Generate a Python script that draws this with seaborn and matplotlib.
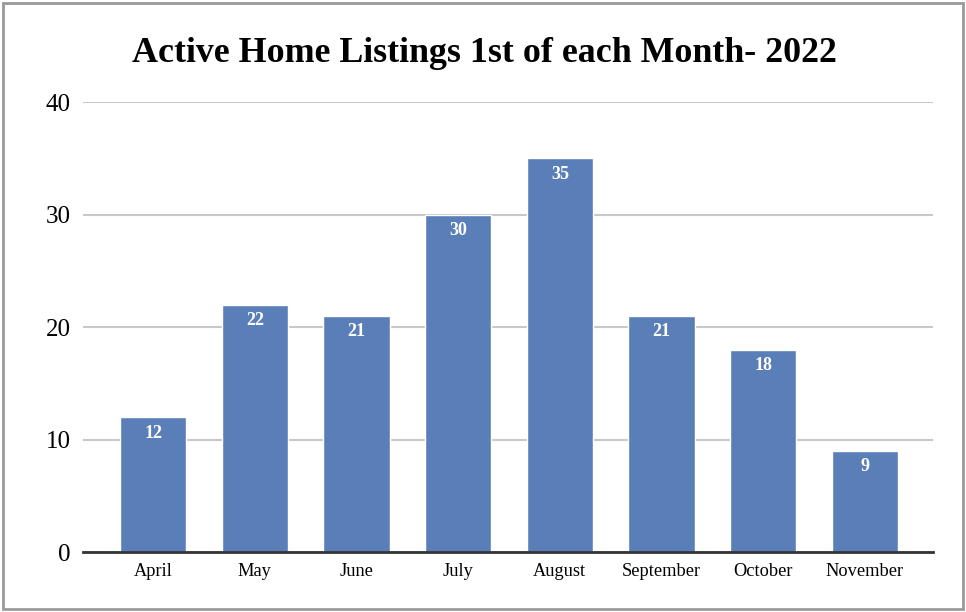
import matplotlib
matplotlib.use("Agg")
import matplotlib.pyplot as plt
import seaborn as sns
import pandas as pd
from matplotlib.patches import Rectangle

# chart data
months = ["April", "May", "June", "July", "August", "September", "October", "November"]
listings = [12, 22, 21, 30, 35, 21, 18, 9]
y_ticks = [0, 10, 20, 30, 40]

df = pd.DataFrame({"month": months, "listings": listings})

sns.set_style("white")
plt.rcParams["font.family"] = ["Liberation Serif", "DejaVu Serif"]
plt.rcParams["text.color"] = "black"

fig = plt.figure(figsize=(9.66, 6.12), dpi=100)
ax = fig.add_axes([0.0859, 0.098, 0.8799, 0.7353])

sns.barplot(data=df, x="month", y="listings", color="#5a7fb8", saturation=1,
            width=0.65, ax=ax, zorder=3)

# value labels inside bar tops
for i, v in enumerate(listings):
    ax.annotate(str(v), (i, v), xytext=(0, -5.5), textcoords="offset points",
                ha="center", va="top", color="white", fontsize=13,
                fontweight="bold", zorder=4)

ax.set_ylim(0, 40)
ax.set_xlim(-0.69, len(months) - 0.33)
ax.set_yticks(y_ticks)
ax.set_yticklabels([str(t) for t in y_ticks], fontsize=18, color="black")
ax.tick_params(axis="x", labelsize=13.2, labelcolor="black", length=0, pad=8)
ax.tick_params(axis="y", length=0, pad=9)
ax.yaxis.grid(True, color="#c8c8c8", linewidth=1.5, zorder=0)
ax.set_axisbelow(True)
for s in ["top", "right", "left"]:
    ax.spines[s].set_visible(False)
ax.spines["bottom"].set_color("#333333")
ax.spines["bottom"].set_linewidth(2)
ax.spines["bottom"].set_zorder(5)
ax.set_xlabel("")
ax.set_ylabel("")

fig.text(0.501, 0.913, "Active Home Listings 1st of each Month- 2022",
         ha="center", va="center", fontsize=25.8, fontweight="bold", color="black")

# outer frame
fig.patches.append(Rectangle((0.0035, 0.005), 0.993, 0.99, transform=fig.transFigure,
                             fill=False, edgecolor="#9a9a9a", linewidth=2))

fig.savefig("out.png", dpi=100)
